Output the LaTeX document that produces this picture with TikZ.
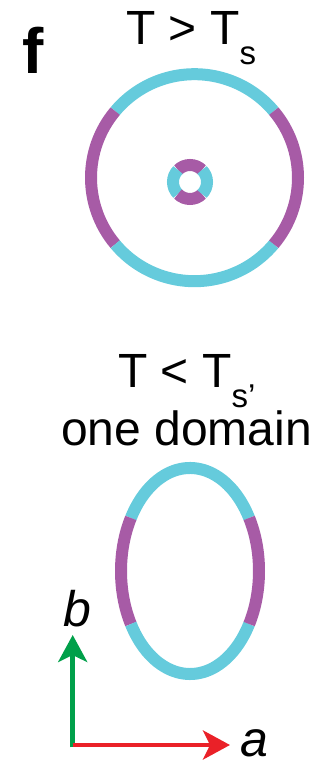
\documentclass[tikz,border=0pt]{standalone}
\usepackage{fontspec}
\setmainfont{Liberation Sans}
\usetikzlibrary{arrows.meta,calc}
\definecolor{cy}{HTML}{65CBDC}
\definecolor{mg}{HTML}{A75BA6}
\definecolor{gr}{HTML}{00A04A}
\definecolor{rd}{HTML}{EA2128}
\tikzset{
  seg/.style={line width=12pt},
  axis/.style={line width=4.6pt,-{Stealth[length=27pt,width=29pt,inset=7pt]}},
  big/.style={font=\fontsize{48}{50}\selectfont, anchor=base west, inner sep=0pt},
  lab/.style={font=\itshape\fontsize{50}{52}\selectfont, anchor=base west, inner sep=0pt}
}
\newcommand{\subs}[1]{\raisebox{-19.5pt}{\fontsize{33}{35}\selectfont #1}}
\begin{document}
\begin{tikzpicture}[x=1pt,y=1pt]
\useasboundingbox (0,0) rectangle (327,763);
% panel label
\node[font=\bfseries\fontsize{64}{66}\selectfont, anchor=base west, inner sep=0pt] (f) at (22,689) {f};
% titles
\node[big] (t1) at (126,718) {T > T\subs{s}};
\node[big] (t2) at (118,375) {T < T\subs{s’}};
\node[big] (t3) at (61,317.5) {one domain};
% big circle
\coordinate (c1) at (194.5,585.3);
\draw[seg,cy] ([shift={(40:103.5)}]c1) arc[start angle=40,end angle=140,radius=103.5];
\draw[seg,mg] ([shift={(140:103.5)}]c1) arc[start angle=140,end angle=220,radius=103.5];
\draw[seg,cy] ([shift={(220:103.5)}]c1) arc[start angle=220,end angle=320,radius=103.5];
\draw[seg,mg] ([shift={(320:103.5)}]c1) arc[start angle=320,end angle=400,radius=103.5];
% small ring
\coordinate (c2) at (190,581);
\draw[seg,mg] ([shift={(45:17)}]c2) arc[start angle=45,end angle=135,radius=17];
\draw[seg,cy] ([shift={(135:17)}]c2) arc[start angle=135,end angle=225,radius=17];
\draw[seg,mg] ([shift={(225:17)}]c2) arc[start angle=225,end angle=315,radius=17];
\draw[seg,cy] ([shift={(315:17)}]c2) arc[start angle=315,end angle=405,radius=17];
% ellipse
\coordinate (c3) at (190,192);
\draw[seg,cy] ($(c3)+({69*cos(31)},{103*sin(31)})$) arc[start angle=31,end angle=149,x radius=69,y radius=103];
\draw[seg,mg] ($(c3)+({69*cos(149)},{103*sin(149)})$) arc[start angle=149,end angle=211,x radius=69,y radius=103];
\draw[seg,cy] ($(c3)+({69*cos(211)},{103*sin(211)})$) arc[start angle=211,end angle=329,x radius=69,y radius=103];
\draw[seg,mg] ($(c3)+({69*cos(329)},{103*sin(329)})$) arc[start angle=329,end angle=391,x radius=69,y radius=103];
% axes
\coordinate (o) at (72.7,18);
\coordinate (btip) at (72.7,128);
\coordinate (atip) at (230,18);
\draw[axis,gr] ([yshift=-2.3pt]o) -- (btip);
\draw[axis,rd] (o) -- (atip);
\node[lab] (b) at (63,136) {b};
\node[lab] (a) at (240,6) {a};
\end{tikzpicture}
\end{document}
